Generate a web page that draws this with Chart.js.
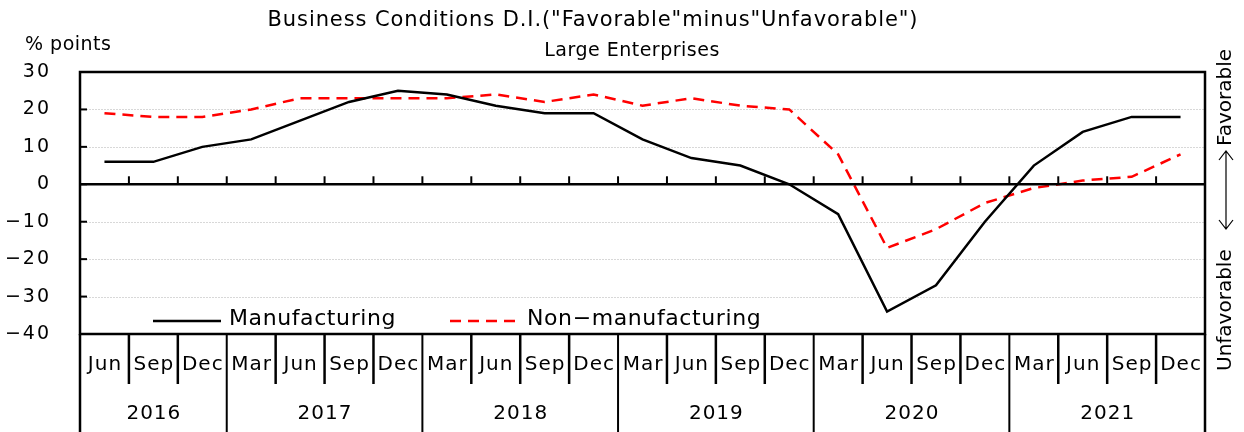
<!DOCTYPE html>
<html>
<head>
<meta charset="utf-8">
<script src="https://cdn.jsdelivr.net/npm/chart.js@4/dist/chart.umd.min.js"></script>
<style>
  html, body { margin: 0; padding: 0; background: #fff; }
  #wrap { width: 1244px; height: 432px; position: relative; }
</style>
</head>
<body>
<div id="wrap"><canvas id="diChart" width="1244" height="432"></canvas></div>
<script>
// data (quarterly, Jun 2016 - Dec 2021)
const months = ["Jun","Sep","Dec","Mar","Jun","Sep","Dec","Mar","Jun","Sep","Dec","Mar","Jun","Sep","Dec","Mar","Jun","Sep","Dec","Mar","Jun","Sep","Dec"];
const years = ["2016","2017","2018","2019","2020","2021"];
const yearSpans = [3, 4, 4, 4, 4, 4];
const manufacturing = [6, 6, 10, 12, 17, 22, 25, 24, 21, 19, 19, 12, 7, 5, 0, -8, -34, -27, -10, 5, 14, 18, 18];
const nonManufacturing = [19, 18, 18, 20, 23, 23, 23, 23, 24, 22, 24, 21, 23, 21, 20, 8, -17, -12, -5, -1, 1, 2, 8];
const yTicks = [30, 20, 10, 0, -10, -20, -30, -40];

const FONT = '"DejaVu Sans", sans-serif';

function setFont(ctx, size, spacing) {
  ctx.font = size + "px " + FONT;
  ctx.letterSpacing = (spacing || 0) + "px";
}

// ========================================
// custom drawing: frame, ticks, table labels, texts
// ========================================
const decor = {
  id: "decor",
  beforeDatasetsDraw(chart) {
    const { ctx, chartArea: a, scales } = chart;
    const y = scales.y;
    ctx.save();
    // faint grid
    ctx.strokeStyle = "#d8d8d8";
    ctx.lineWidth = 1;
    ctx.setLineDash([2, 1]);
    yTicks.forEach((v) => {
      if (v === 0 || v === 30 || v === -40) return;
      const py = Math.round(y.getPixelForValue(v)) + 0.5;
      ctx.beginPath();
      ctx.moveTo(a.left, py);
      ctx.lineTo(a.right, py);
      ctx.stroke();
    });
    ctx.restore();
  },
  afterDraw(chart) {
    const { ctx, chartArea: a, scales } = chart;
    const x = scales.x;
    const y = scales.y;
    const step = x.getPixelForValue(1) - x.getPixelForValue(0);
    const bound = (i) => x.getPixelForValue(i) - step / 2;
    const y0 = y.getPixelForValue(0);
    ctx.save();
    ctx.strokeStyle = "#000";
    ctx.lineWidth = 2.5;
    ctx.setLineDash([]);

    // frame
    ctx.strokeRect(a.left, a.top, a.right - a.left, a.bottom - a.top);
    // zero line
    ctx.beginPath();
    ctx.moveTo(a.left, y0);
    ctx.lineTo(a.right, y0);
    ctx.stroke();

    // ticks on zero line
    ctx.lineWidth = 2;
    for (let i = 1; i < months.length; i++) {
      const px = bound(i);
      ctx.beginPath();
      ctx.moveTo(px, y0);
      ctx.lineTo(px, y0 - 8);
      ctx.stroke();
    }
    // y ticks inside left axis
    yTicks.forEach((v) => {
      const py = y.getPixelForValue(v);
      ctx.beginPath();
      ctx.moveTo(a.left, py);
      ctx.lineTo(a.left + 7, py);
      ctx.stroke();
    });

    // y tick labels
    ctx.fillStyle = "#000";
    setFont(ctx, 19, 2);
    ctx.textAlign = "right";
    ctx.textBaseline = "middle";
    yTicks.forEach((v) => {
      ctx.fillText(String(v).replace("-", "\u2212"), 51, y.getPixelForValue(v));
    });

    // table under the plot
    const tableBottom = chart.height;
    ctx.lineWidth = 2.5;
    ctx.beginPath();
    ctx.moveTo(a.left, a.bottom);
    ctx.lineTo(a.left, tableBottom);
    ctx.moveTo(a.right, a.bottom);
    ctx.lineTo(a.right, tableBottom);
    ctx.stroke();
    let k = 0;
    const yearStarts = new Set();
    yearSpans.forEach((s) => { k += s; yearStarts.add(k); });
    for (let i = 1; i < months.length; i++) {
      const px = bound(i);
      ctx.lineWidth = yearStarts.has(i) ? 2 : 2.5;
      ctx.beginPath();
      ctx.moveTo(px, a.bottom);
      ctx.lineTo(px, yearStarts.has(i) ? tableBottom : 384);
      ctx.stroke();
    }
    setFont(ctx, 20, 1);
    ctx.textAlign = "center";
    months.forEach((m, i) => {
      ctx.fillText(m, x.getPixelForValue(i) + 0.5, 365);
    });
    let start = 0;
    years.forEach((yr, j) => {
      const mid = (bound(start) + bound(start + yearSpans[j])) / 2;
      ctx.fillText(yr, mid + 0.5, 414);
      start += yearSpans[j];
    });

    // titles
    setFont(ctx, 21, 0.9);
    ctx.fillText('Business Conditions D.I.("Favorable"minus"Unfavorable")', 593, 21);
    setFont(ctx, 19, 0.5);
    ctx.fillText("Large Enterprises", 632, 51);
    ctx.textAlign = "left";
    ctx.fillText("% points", 25, 45);

    // legend inside plot
    const ly = 321;
    ctx.lineWidth = 2.5;
    ctx.strokeStyle = "#000";
    ctx.beginPath();
    ctx.moveTo(153, ly);
    ctx.lineTo(221, ly);
    ctx.stroke();
    ctx.strokeStyle = "#ff0000";
    ctx.setLineDash([11, 7]);
    ctx.beginPath();
    ctx.moveTo(450, ly);
    ctx.lineTo(518, ly);
    ctx.stroke();
    ctx.setLineDash([]);
    setFont(ctx, 22, 0.6);
    ctx.fillStyle = "#000";
    ctx.fillText("Manufacturing", 229, ly - 2);
    ctx.fillText("Non-manufacturing".replace("-", "\u2212"), 527, ly - 2);

    // right side label (rotated)
    ctx.save();
    ctx.translate(1226, 0);
    ctx.rotate(-Math.PI / 2);
    setFont(ctx, 20, 0);
    ctx.textBaseline = "middle";
    ctx.textAlign = "left";
    ctx.fillText("Unfavorable", -371, 0);
    ctx.fillText("Favorable", -146, 0);
    // double arrow between the words
    ctx.lineWidth = 1.2;
    ctx.strokeStyle = "#000";
    const ax1 = -229, ax2 = -151;
    ctx.beginPath();
    ctx.moveTo(ax1, 0);
    ctx.lineTo(ax2, 0);
    ctx.moveTo(ax1 + 9, -7);
    ctx.lineTo(ax1, 0);
    ctx.lineTo(ax1 + 9, 7);
    ctx.moveTo(ax2 - 9, -7);
    ctx.lineTo(ax2, 0);
    ctx.lineTo(ax2 - 9, 7);
    ctx.stroke();
    ctx.restore();

    ctx.restore();
  },
};

new Chart(document.getElementById("diChart"), {
  type: "line",
  data: {
    labels: months,
    datasets: [
      {
        label: "Manufacturing",
        data: manufacturing,
        borderColor: "#000",
        borderWidth: 2.5,
        pointRadius: 0,
        tension: 0,
      },
      {
        label: "Non-manufacturing",
        data: nonManufacturing,
        borderColor: "#ff0000",
        borderWidth: 2.5,
        borderDash: [11, 7],
        pointRadius: 0,
        tension: 0,
      },
    ],
  },
  options: {
    responsive: false,
    animation: false,
    layout: { padding: { left: 80, right: 39, top: 72, bottom: 98 } },
    plugins: { legend: { display: false }, title: { display: false }, tooltip: { enabled: false } },
    scales: {
      x: { type: "category", display: false, offset: true },
      y: { display: false, min: -40, max: 30 },
    },
  },
  plugins: [decor],
});
</script>
</body>
</html>
